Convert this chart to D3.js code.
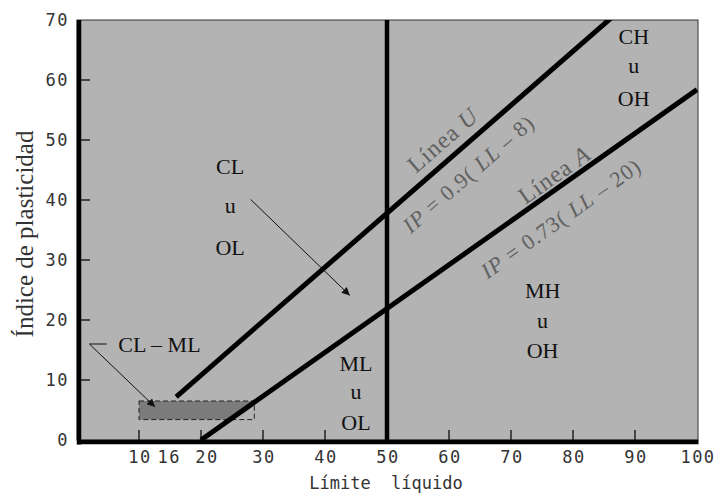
<!DOCTYPE html>
<html><head><meta charset="utf-8">
<script src="https://cdn.jsdelivr.net/npm/d3@7"></script>
<style>body{margin:0;background:#fff}svg{display:block}</style>
</head><body>
<svg id="c" width="717" height="493"></svg>
<script>
// ---- data ----
const xTicks = [10, 20, 30, 40, 60, 70, 80, 90];
const xTickLabels = [10, 16, 20, 30, 40, 50, 60, 70, 80, 90, 100];
const xLabelNudge = {16: -8, 20: 5};
const yTicks = [10, 20, 30, 40, 50, 60];
const yTickLabels = [0, 10, 20, 30, 40, 50, 60, 70];
const lineU = {slope: 0.9, offset: 8, from: 16, to: 100};
const lineA = {slope: 0.73, offset: 20, from: 20, to: 100};
const verticalLL = 50;
const clmlRect = {x0: 10, x1: 28.6, y0: 3.4, y1: 6.5};
const zoneLabels = [
  {lines: ["CL", "u", "OL"], x: 24.7, y: [44.3, 37.8, 30.8]},
  {lines: ["CH", "u", "OH"], x: 89.8, y: [66, 61.1, 55.6]},
  {lines: ["MH", "u", "OH"], x: 75.1, y: [23.7, 18.7, 13.7]},
  {lines: ["ML", "u", "OL"], x: 45, y: [11.5, 6.9, 1.7]}
];
const clmlLabel = {text: "CL – ML", x: 13.3, y: 14.7};

const svg = d3.select("#c");
const x = d3.scaleLinear().domain([0, 100]).range([77, 697]);
const y = d3.scaleLinear().domain([0, 70]).range([440, 20]);

svg.append("defs").append("clipPath").attr("id", "clip")
  .append("rect").attr("x", x(0)).attr("y", y(70)).attr("width", x(100) - x(0) + 1).attr("height", y(0) - y(70));
svg.select("defs").append("marker").attr("id", "arr").attr("viewBox", "0 0 10 10")
  .attr("refX", 10).attr("refY", 5).attr("markerWidth", 12).attr("markerHeight", 8)
  .attr("markerUnits", "userSpaceOnUse").attr("orient", "auto")
  .append("path").attr("d", "M0,0L10,5L0,10Z").attr("fill", "#111");

// background
svg.append("rect").attr("x", x(0)).attr("y", y(70)).attr("width", x(100) - x(0) + 1).attr("height", y(0) - y(70))
  .attr("fill", "#b3b3b3").attr("stroke", "#333").attr("stroke-width", 1);

const g = svg.append("g").attr("clip-path", "url(#clip)");

// CL-ML fill (left of line A)
const llA = ip => lineA.offset + ip / lineA.slope;
g.append("path")
  .attr("d", d3.line()([[x(clmlRect.x0), y(clmlRect.y0)], [x(clmlRect.x0), y(clmlRect.y1)],
    [x(Math.min(clmlRect.x1, llA(clmlRect.y1))), y(clmlRect.y1)], [x(llA(clmlRect.y0)), y(clmlRect.y0)]]))
  .attr("fill", "#7b7b7b");
g.append("rect").attr("x", x(clmlRect.x0)).attr("y", y(clmlRect.y1))
  .attr("width", x(clmlRect.x1) - x(clmlRect.x0)).attr("height", y(clmlRect.y0) - y(clmlRect.y1))
  .attr("fill", "none").attr("stroke", "#222").attr("stroke-width", 1).attr("stroke-dasharray", "5,3");

// ticks
g.selectAll(".yt").data(yTicks).join("line").attr("x1", 80).attr("x2", 90)
  .attr("y1", d => y(d)).attr("y2", d => y(d)).attr("stroke", "#222").attr("stroke-width", 1.5);
g.selectAll(".xt").data(xTicks).join("line").attr("x1", d => x(d)).attr("x2", d => x(d))
  .attr("y1", 441).attr("y2", 430).attr("stroke", "#222").attr("stroke-width", 1.5);

// lines
[lineU, lineA].forEach(L => {
  g.append("line").attr("x1", x(L.from)).attr("y1", y(L.slope * (L.from - L.offset)))
    .attr("x2", x(L.to)).attr("y2", y(L.slope * (L.to - L.offset)))
    .attr("stroke", "#000").attr("stroke-width", 5);
});
svg.append("line").attr("x1", x(verticalLL)).attr("x2", x(verticalLL)).attr("y1", y(70)).attr("y2", y(0))
  .attr("stroke", "#000").attr("stroke-width", 4.5);

// axes
svg.append("line").attr("x1", 79).attr("x2", 79).attr("y1", y(70)).attr("y2", 444.5).attr("stroke", "#000").attr("stroke-width", 4.5);
svg.append("line").attr("x1", 77).attr("x2", 698.5).attr("y1", 442).attr("y2", 442).attr("stroke", "#000").attr("stroke-width", 4.5);

// tick labels
const mono = "'DejaVu Sans Mono', monospace";
svg.selectAll(".yl").data(yTickLabels).join("text").attr("x", 69).attr("y", d => y(d) + 6)
  .attr("text-anchor", "end").attr("font-family", mono).attr("font-size", 17).attr("fill", "#333")
  .attr("letter-spacing", 1.5).text(d => d);
svg.selectAll(".xl").data(xTickLabels).join("text").attr("x", d => x(d) + 1 + (xLabelNudge[d] || 0)).attr("y", 463)
  .attr("text-anchor", "middle").attr("font-family", mono).attr("font-size", 17).attr("fill", "#333")
  .attr("letter-spacing", 1.5).text(d => d);

svg.append("text").attr("x", 386).attr("y", 489).attr("text-anchor", "middle").attr("font-family", mono)
  .attr("font-size", 17).attr("fill", "#333").attr("letter-spacing", 0).attr("xml:space", "preserve")
  .style("white-space", "pre").text("Límite  líquido");
svg.append("text").attr("transform", "translate(33,234) rotate(-90)").attr("text-anchor", "middle")
  .attr("font-family", "'Liberation Serif', serif").attr("font-size", 25).attr("fill", "#333")
  .text("Índice de plasticidad");

// zone labels
const serif = "'Liberation Serif', 'Times New Roman', serif";
zoneLabels.forEach(z => {
  z.lines.forEach((t, i) => {
    svg.append("text").attr("x", x(z.x)).attr("y", y(z.y[i])).attr("text-anchor", "middle")
      .attr("font-family", serif).attr("font-size", 22).attr("fill", "#111").text(t);
  });
});
svg.append("text").attr("x", x(clmlLabel.x)).attr("y", y(clmlLabel.y)).attr("text-anchor", "middle")
  .attr("font-family", serif).attr("font-size", 22).attr("fill", "#111").text(clmlLabel.text);

// arrows
svg.append("line").attr("x1", x(28)).attr("y1", y(40.1)).attr("x2", x(44)).attr("y2", y(24.1))
  .attr("stroke", "#111").attr("stroke-width", 1).attr("marker-end", "url(#arr)");
svg.append("path").attr("d", d3.line()([[x(4.8), y(16)], [x(2), y(16)], [x(12.6), y(5.5)]]))
  .attr("fill", "none").attr("stroke", "#111").attr("stroke-width", 1).attr("marker-end", "url(#arr)");

// rotated line labels
function angle(L) {
  const p1 = [x(0), y(0)], p2 = [x(10), y(10 * L.slope)];
  return Math.atan2(p2[1] - p1[1], p2[0] - p1[0]) * 180 / Math.PI;
}
function rotLabel(L, ll, ip, parts, fs) {
  const t = svg.append("text").attr("transform", `translate(${x(ll)},${y(ip)}) rotate(${angle(L)})`)
    .attr("text-anchor", "middle").attr("dominant-baseline", "central")
    .attr("font-family", serif).attr("font-size", fs).attr("fill", "#606060").attr("letter-spacing", 1);
  parts.forEach(p => t.append("tspan").attr("font-style", p[1] ? "italic" : "normal").text(p[0]));
}
rotLabel(lineU, 59.0, 50.0, [["Línea ", 0], ["U", 1]], 24);
rotLabel(lineU, 63.1, 44.4, [["IP", 1], [" = 0.9( ", 0], ["LL", 1], [" – 8)", 0]], 22);
rotLabel(lineA, 77.0, 44.2, [["Línea ", 0], ["A", 1]], 24);
rotLabel(lineA, 78.0, 37.0, [["IP", 1], [" = 0.73( ", 0], ["LL", 1], [" – 20)", 0]], 22);
</script>
</body></html>
